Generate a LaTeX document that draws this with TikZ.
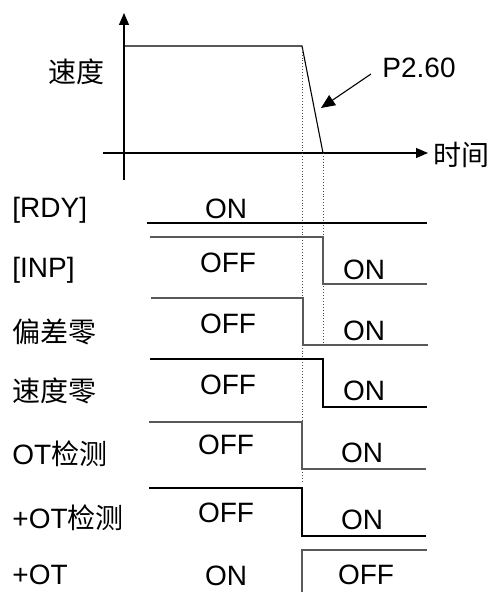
\documentclass[tikz,border=0pt]{standalone}
\usepackage{fontspec}
\setmainfont{Liberation Sans}
\newfontfamily\cjk{Noto Sans CJK SC}
\usetikzlibrary{arrows.meta}
\begin{document}
\begin{tikzpicture}[x=0.5pt,y=-0.5pt,
  txt/.style={inner sep=0pt,font=\fontsize{14}{16}\selectfont},
  lbl/.style={txt,anchor=west},
  sig/.style={line width=0.55pt,black},
  gsig/.style={line width=0.6pt,black!65},
  guide/.style={line width=0.45pt,densely dotted,black!70},
  axis/.style={line width=0.55pt,-{Triangle[length=6pt,width=5pt]}}]
\useasboundingbox (0,0) rectangle (495,592);
% axes
\coordinate (yb) at (124,180);
\coordinate (yt) at (124,13);
\coordinate (xl) at (103,153);
\coordinate (xr) at (428,153);
\draw[axis] (yb) -- (yt);
\draw[axis] (xl) -- (xr);
\node[lbl] (tlab) at (433,155) {\cjk 时间};
\node[lbl] (vlab) at (48,72) {\cjk 速度};
% speed profile
\coordinate (v0) at (124,46);
\coordinate (v1) at (302,46);
\coordinate (v2) at (323,153);
\draw[sig] (v0) -- (v1) -- (v2);
\node[lbl] (plab) at (382,68) {P2.60};
\coordinate (pa) at (371,74);
\coordinate (pb) at (321,108);
\draw[line width=0.55pt,-{Triangle[length=7pt,width=6pt]}] (pa) -- (pb);
% guides
\coordinate (g1b) at (302,482);
\coordinate (g2b) at (323,345);
\draw[guide] (v1) -- (g1b);
\draw[guide] (v2) -- (g2b);
% RDY
\node[lbl] (l1) at (12,210) {[RDY]};
\coordinate (r1a) at (147,223);
\coordinate (r1b) at (427,223);
\draw[sig] (r1a) -- (r1b);
\node[txt] (s1) at (226,209) {ON};
% INP
\node[lbl] (l2) at (12,270) {[INP]};
\coordinate (r2a) at (150,237);
\coordinate (r2b) at (323,237);
\coordinate (r2c) at (323,284);
\coordinate (r2d) at (427,284);
\draw[gsig] (r2a) -- (r2b) -- (r2c) -- (r2d);
\node[txt] (s2a) at (228,263) {OFF};
\node[txt] (s2b) at (364,270) {ON};
% deviation zero
\node[lbl] (l3) at (12,332) {\cjk 偏差零};
\coordinate (r3a) at (151,298);
\coordinate (r3b) at (303,298);
\coordinate (r3c) at (303,345);
\coordinate (r3d) at (428,345);
\draw[gsig] (r3a) -- (r3b) -- (r3c) -- (r3d);
\node[txt] (s3a) at (228,324) {OFF};
\node[txt] (s3b) at (364,331) {ON};
% speed zero
\node[lbl] (l4) at (12,391) {\cjk 速度零};
\coordinate (r4a) at (150,359);
\coordinate (r4b) at (323,359);
\coordinate (r4c) at (323,407);
\coordinate (r4d) at (427,407);
\draw[sig] (r4a) -- (r4b) -- (r4c) -- (r4d);
\node[txt] (s4a) at (228,385) {OFF};
\node[txt] (s4b) at (364,391) {ON};
% OT detect
\node[lbl] (l5) at (12,454) {OT{\cjk 检测}};
\coordinate (r5a) at (149,422);
\coordinate (r5b) at (302,422);
\coordinate (r5c) at (302,469);
\coordinate (r5d) at (426,469);
\draw[gsig] (r5a) -- (r5b) -- (r5c) -- (r5d);
\node[txt] (s5a) at (226,445) {OFF};
\node[txt] (s5b) at (362,453) {ON};
% +OT detect
\node[lbl] (l6) at (12,518) {+OT{\cjk 检测}};
\coordinate (r6a) at (149,488);
\coordinate (r6b) at (302,488);
\coordinate (r6c) at (302,536);
\coordinate (r6d) at (426,536);
\draw[sig] (r6a) -- (r6b) -- (r6c) -- (r6d);
\node[txt] (s6a) at (226,513) {OFF};
\node[txt] (s6b) at (362,520) {ON};
% +OT
\node[lbl] (l7) at (12,575) {+OT};
\coordinate (r7a) at (302,592);
\coordinate (r7b) at (302,550);
\coordinate (r7c) at (427,550);
\draw[gsig] (r7a) -- (r7b) -- (r7c);
\node[txt] (s7a) at (226,576) {ON};
\node[txt] (s7b) at (366,575) {OFF};
\end{tikzpicture}
\end{document}
